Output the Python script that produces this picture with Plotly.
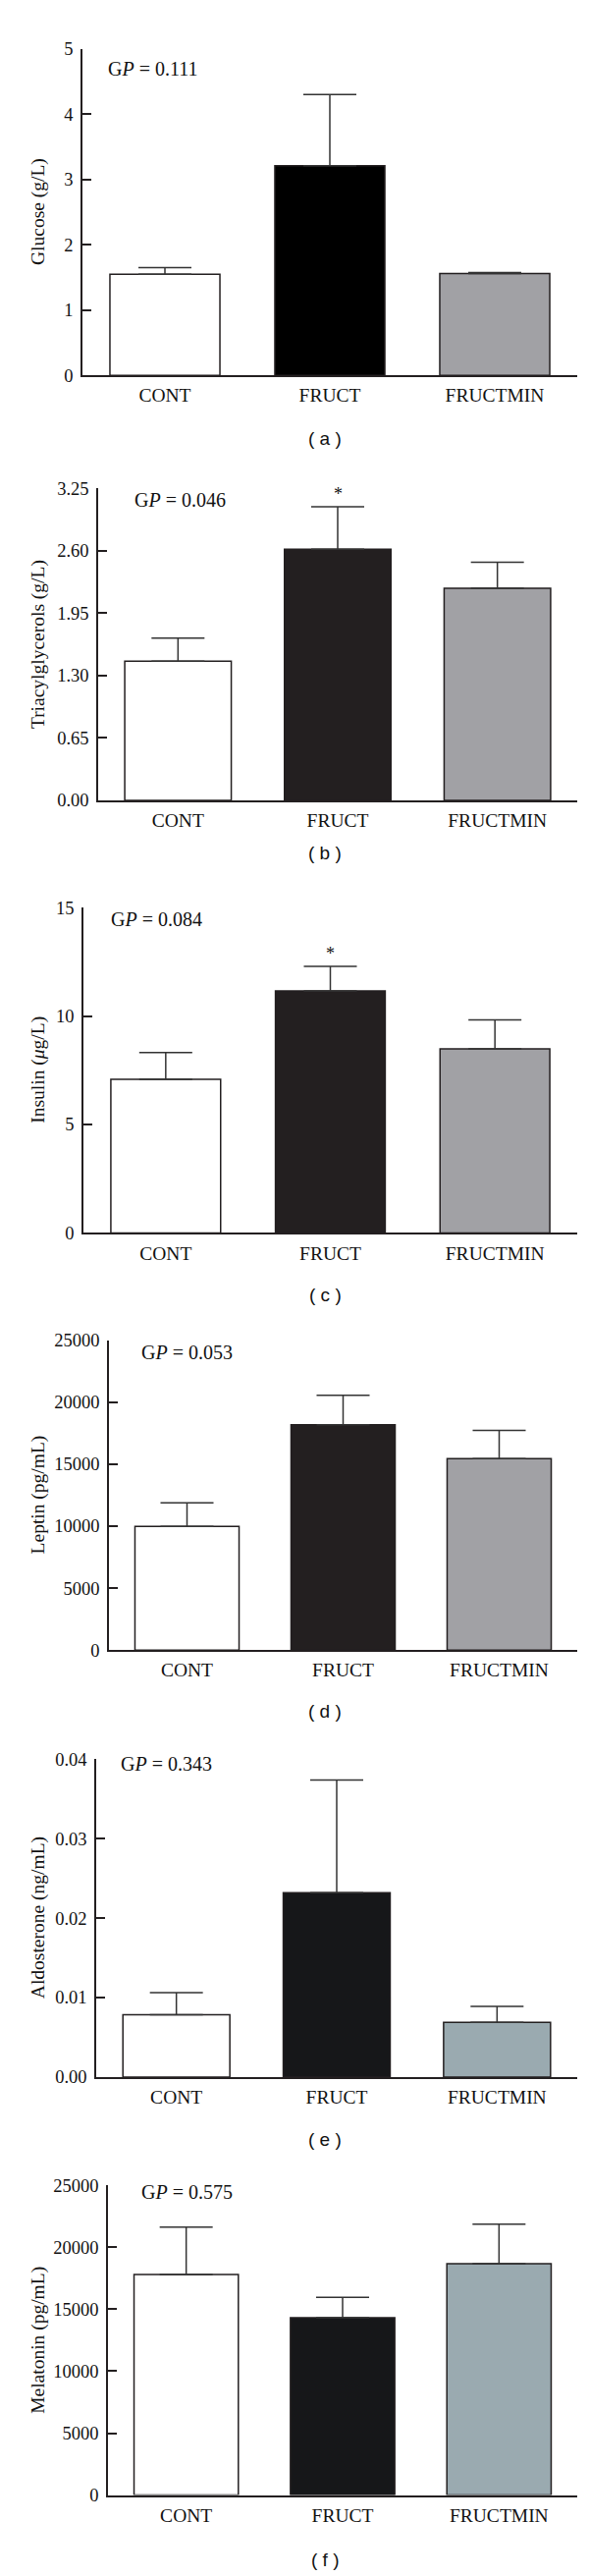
import plotly.graph_objects as go

# ---------------- data ----------------
categories = ["CONT", "FRUCT", "FRUCTMIN"]

glucose_mean = [1.55, 3.21, 1.56]
glucose_top = [1.65, 4.30, 1.575]
glucose_ticks = [0, 1, 2, 3, 4, 5]
glucose_ticktext = ["0", "1", "2", "3", "4", "5"]

tag_mean = [1.45, 2.615, 2.21]
tag_top = [1.69, 3.06, 2.48]
tag_ticks = [0.0, 0.65, 1.30, 1.95, 2.60, 3.25]
tag_ticktext = ["0.00", "0.65", "1.30", "1.95", "2.60", "3.25"]

insulin_mean = [7.08, 11.15, 8.49]
insulin_top = [8.31, 12.29, 9.82]
insulin_ticks = [0, 5, 10, 15]
insulin_ticktext = ["0", "5", "10", "15"]

leptin_mean = [9970, 18170, 15450]
leptin_top = [11890, 20550, 17720]
leptin_ticks = [0, 5000, 10000, 15000, 20000, 25000]
leptin_ticktext = ["0", "5000", "10000", "15000", "20000", "25000"]

aldo_mean = [0.00785, 0.0232, 0.00687]
aldo_top = [0.01063, 0.0374, 0.00888]
aldo_ticks = [0.0, 0.01, 0.02, 0.03, 0.04]
aldo_ticktext = ["0.00", "0.01", "0.02", "0.03", "0.04"]

mela_mean = [17790, 14310, 18660]
mela_top = [21620, 15960, 21860]
mela_ticks = [0, 5000, 10000, 15000, 20000, 25000]
mela_ticktext = ["0", "5000", "10000", "15000", "20000", "25000"]

titles = ["Glucose (g/L)", "Triacylglycerols (g/L)", "Insulin (<i>μ</i>g/L)",
          "Leptin (pg/mL)", "Aldosterone (ng/mL)", "Melatonin (pg/mL)"]
gp_texts = ["G<i>P</i> = 0.111", "G<i>P</i> = 0.046", "G<i>P</i> = 0.084",
            "G<i>P</i> = 0.053", "G<i>P</i> = 0.343", "G<i>P</i> = 0.575"]
sub_labels = ["( a )", "( b )", "( c )", "( d )", "( e )", "( f )"]
significant = [[False, False, False], [False, True, False], [False, True, False],
               [False, False, False], [False, False, False], [False, False, False]]

panels_data = [
    (glucose_mean, glucose_top, glucose_ticks, glucose_ticktext),
    (tag_mean, tag_top, tag_ticks, tag_ticktext),
    (insulin_mean, insulin_top, insulin_ticks, insulin_ticktext),
    (leptin_mean, leptin_top, leptin_ticks, leptin_ticktext),
    (aldo_mean, aldo_top, aldo_ticks, aldo_ticktext),
    (mela_mean, mela_top, mela_ticks, mela_ticktext),
]

# ---------------- styling / layout (pixels) ----------------
W, H = 600, 2623
# (x_left, x_right, y_top, y_zero)
boxes = [
    (76, 580, 32, 367),
    (92, 580, 483, 803),
    (77, 580, 913, 1247),
    (103, 580, 1357, 1675),
    (90, 580, 1787, 2113),
    (102, 580, 2224, 2542),
]
gp_pos = [(100, 52), (127, 495), (103, 925), (134, 1369), (113, 1792), (134, 2231)]
sub_y = [432, 857, 1310, 1738, 2177, 2608]
fruct_colors = ["#000000", "#231f20", "#231f20", "#231f20", "#161719", "#161719"]
min_colors = ["#a1a1a5", "#a1a1a5", "#a1a1a5", "#a1a1a5", "#9aaab0", "#9aaab0"]

SERIF = "Liberation Serif, Times New Roman, serif"
SANS = "Liberation Sans, Arial, sans-serif"
LINE = "#231f20"

fig = go.Figure()
annotations = []
layout_axes = {}

for i, ((mean, top, tv, tt), (x0, x1, yt, yz)) in enumerate(zip(panels_data, boxes)):
    n = i + 1
    xa = "x" if n == 1 else f"x{n}"
    ya = "y" if n == 1 else f"y{n}"
    err = [t - m for m, t in zip(mean, top)]
    fig.add_trace(go.Bar(
        x=categories, y=mean, xaxis=xa, yaxis=ya, width=0.667,
        marker=dict(color=["#ffffff", fruct_colors[i], min_colors[i]],
                    line=dict(color=LINE, width=1.5)),
        error_y=dict(type="data", symmetric=False, array=err,
                     arrayminus=[0, 0, 0], color="#333333", thickness=1.5, width=27),
        showlegend=False, hoverinfo="skip",
    ))
    layout_axes["xaxis" if n == 1 else f"xaxis{n}"] = dict(
        domain=[x0 / W, x1 / W], anchor=ya, range=[-0.5, 2.5],
        showline=True, linecolor=LINE, linewidth=1.5, ticks="",
        showgrid=False, zeroline=False,
        tickfont=dict(family=SERIF, size=19.5, color="#111"),
        ticklabelstandoff=2,
    )
    layout_axes["yaxis" if n == 1 else f"yaxis{n}"] = dict(
        domain=[1 - yz / H, 1 - yt / H], anchor=xa, range=[0, tv[-1]],
        showline=True, linecolor=LINE, linewidth=1.5,
        ticks="inside", ticklen=9, tickwidth=1.5, tickcolor=LINE,
        tickvals=tv, ticktext=tt, showgrid=False, zeroline=False,
        tickfont=dict(family=SERIF, size=18.5, color="#111"),
        ticklabelstandoff=4,
    )
    # y-axis title
    annotations.append(dict(
        text=titles[i], xref="paper", yref="paper", x=31 / W,
        y=1 - (yt + yz) / 2 / H, textangle=-90, showarrow=False,
        xanchor="center", yanchor="middle",
        font=dict(family=SERIF, size=19.5, color="#111"),
    ))
    # GP text
    gx, gy = gp_pos[i]
    annotations.append(dict(
        text=gp_texts[i], xref="paper", yref="paper", x=gx / W, y=1 - gy / H,
        showarrow=False, xanchor="left", yanchor="middle",
        font=dict(family=SERIF, size=20, color="#111"),
    ))
    # significance asterisks
    for c, s, t in zip(categories, significant[i], top):
        if s:
            annotations.append(dict(
                text="*", xref=xa, yref=ya, x=c, y=t, yshift=13,
                showarrow=False, xanchor="center", yanchor="middle",
                font=dict(family=SERIF, size=18, color="#111"),
            ))
    # sub-figure label
    annotations.append(dict(
        text=sub_labels[i], xref="paper", yref="paper", x=323 / W,
        y=1 - sub_y[i] / H, showarrow=False, xanchor="center", yanchor="middle",
        font=dict(family=SANS, size=19, color="#111"),
    ))

fig.update_layout(
    width=W, height=H, margin=dict(l=0, r=0, t=0, b=0),
    paper_bgcolor="white", plot_bgcolor="white",
    bargap=0.333, annotations=annotations, **layout_axes,
)

fig.write_html("out.html")
